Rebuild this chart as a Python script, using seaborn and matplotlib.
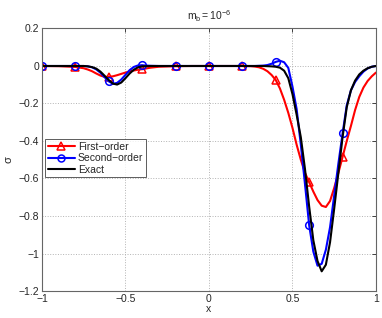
import numpy as np
import pandas as pd
import matplotlib
matplotlib.use("Agg")
import matplotlib.pyplot as plt
from matplotlib.lines import Line2D
import seaborn as sns

# dense grid the curves were read on
x = [-1.0, -0.9, -0.8, -0.75, -0.725, -0.7, -0.675, -0.65, -0.625, -0.6,
     -0.575, -0.55, -0.525, -0.5, -0.475, -0.45, -0.425, -0.4, -0.35, -0.3,
     -0.2, -0.1, 0.0, 0.1, 0.2, 0.25, 0.275, 0.3, 0.325, 0.35,
     0.375, 0.4, 0.425, 0.45, 0.475, 0.5, 0.525, 0.55, 0.575, 0.6,
     0.625, 0.65, 0.675, 0.7, 0.725, 0.75, 0.775, 0.8, 0.825, 0.85,
     0.875, 0.9, 0.925, 0.95, 0.975, 1.0]

first_order = [0, -0.001, -0.005, -0.012, -0.019, -0.028, -0.04, -0.051, -0.058, -0.058,
               -0.055, -0.049, -0.042, -0.035, -0.029, -0.024, -0.02, -0.017, -0.009, -0.004,
               -0.001, 0, 0, 0, 0, -0.001, -0.003, -0.007, -0.015, -0.028,
               -0.048, -0.075, -0.12, -0.18, -0.25, -0.33, -0.42, -0.5, -0.57, -0.62,
               -0.67, -0.715, -0.745, -0.752, -0.72, -0.65, -0.57, -0.485, -0.4, -0.32,
               -0.235, -0.165, -0.115, -0.08, -0.055, -0.035]

second_order = [0, 0, 0, 0, -0.002, -0.007, -0.018, -0.036, -0.06, -0.082,
                -0.095, -0.09, -0.072, -0.047, -0.022, -0.005, 0.003, 0.004, 0.001, 0,
                0, 0, 0, 0, 0, 0, 0, 0.001, 0.002, 0.005,
                0.012, 0.022, 0.028, 0.02, -0.01, -0.11, -0.23, -0.42, -0.63, -0.85,
                -0.99, -1.065, -1.055, -0.98, -0.86, -0.69, -0.52, -0.36, -0.21, -0.13,
                -0.085, -0.055, -0.03, -0.013, -0.004, 0]

exact = [0, 0, 0, 0, -0.002, -0.006, -0.014, -0.03, -0.052, -0.075,
         -0.094, -0.099, -0.088, -0.065, -0.04, -0.02, -0.007, -0.002, 0, 0,
         0, 0, 0, 0, 0, 0, 0, 0, 0, -0.001,
         -0.002, -0.004, -0.009, -0.025, -0.065, -0.15, -0.26, -0.38, -0.55, -0.75,
         -0.93, -1.04, -1.095, -1.06, -0.94, -0.76, -0.57, -0.38, -0.22, -0.13,
         -0.078, -0.045, -0.025, -0.012, -0.004, 0]

# marker nodes
x_nodes = [-1.0, -0.8, -0.6, -0.4, -0.2, 0.0, 0.2, 0.4, 0.6, 0.8]
first_nodes = [0, -0.005, -0.058, -0.017, 0, 0, 0, -0.075, -0.62, -0.485]
second_nodes = [0, 0, -0.082, 0.004, 0, 0, 0, 0.022, -0.85, -0.36]

sns.set_style("white")
plt.rcParams["font.family"] = ["Liberation Sans", "DejaVu Sans"]
plt.rcParams["mathtext.fontset"] = "custom"
plt.rcParams["mathtext.rm"] = "Liberation Sans"
plt.rcParams["mathtext.it"] = "Liberation Sans"

fig = plt.figure(figsize=(3.82, 3.18), dpi=100)
ax = fig.add_axes([0.1099, 0.0849, 0.8743, 0.8255])

red, blue = "#ff0000", "#0000ff"
sns.lineplot(x=x, y=first_order, ax=ax, color=red, lw=1.5, sort=False)
sns.lineplot(x=x_nodes, y=first_nodes, ax=ax, color=red, marker="^", linestyle="",
             ms=6, mfc="none", mec=red, mew=1.1, sort=False)
sns.lineplot(x=x, y=second_order, ax=ax, color=blue, lw=1.5, sort=False)
sns.lineplot(x=x_nodes, y=second_nodes, ax=ax, color=blue, marker="o", linestyle="",
             ms=5.5, mfc="none", mec=blue, mew=1.1, sort=False)
sns.lineplot(x=x, y=exact, ax=ax, color="black", lw=1.5, sort=False)

ax.set_xlim(-1, 1)
ax.set_ylim(-1.2, 0.2)
ax.set_xticks([-1, -0.5, 0, 0.5, 1])
ax.set_xticklabels(["\u22121", "\u22120.5", "0", "0.5", "1"])
yt = [-1.2, -1.0, -0.8, -0.6, -0.4, -0.2, 0, 0.2]
ax.set_yticks(yt)
ax.set_yticklabels(["\u22121.2", "\u22121", "\u22120.8", "\u22120.6", "\u22120.4",
                    "\u22120.2", "0", "0.2"])
ax.grid(True, color="0.7", linestyle=":", lw=0.7)
ax.tick_params(direction="in", length=3, width=0.6, labelsize=7.5, colors="0.15",
               top=True, right=True, pad=2)
for s in ax.spines.values():
    s.set_color("0.4")
    s.set_linewidth(0.8)

ax.set_xlabel("x", fontsize=7.5, labelpad=0)
ax.set_ylabel("\u03c3", fontsize=8, labelpad=4)
ax.set_title("$\\mathregular{m_b{=}10^{-6}}$", fontsize=7.5, pad=6)

handles = [
    Line2D([], [], color=red, lw=1.5, marker="^", ms=6, mfc="none", mew=1.1),
    Line2D([], [], color=blue, lw=1.5, marker="o", ms=5, mfc="none", mew=1.1),
    Line2D([], [], color="black", lw=1.5),
]
leg = ax.legend(handles, ["First\u2212order", "Second\u2212order", "Exact"],
                loc="upper left", bbox_to_anchor=(0.009, 0.579), borderaxespad=0,
                fontsize=7.5, frameon=True, fancybox=False, handlelength=2.6,
                handletextpad=0.3, borderpad=0.25, labelspacing=0.15)
leg.get_frame().set_edgecolor("0.2")
leg.get_frame().set_linewidth(0.7)

fig.savefig("out.png", dpi=100)
